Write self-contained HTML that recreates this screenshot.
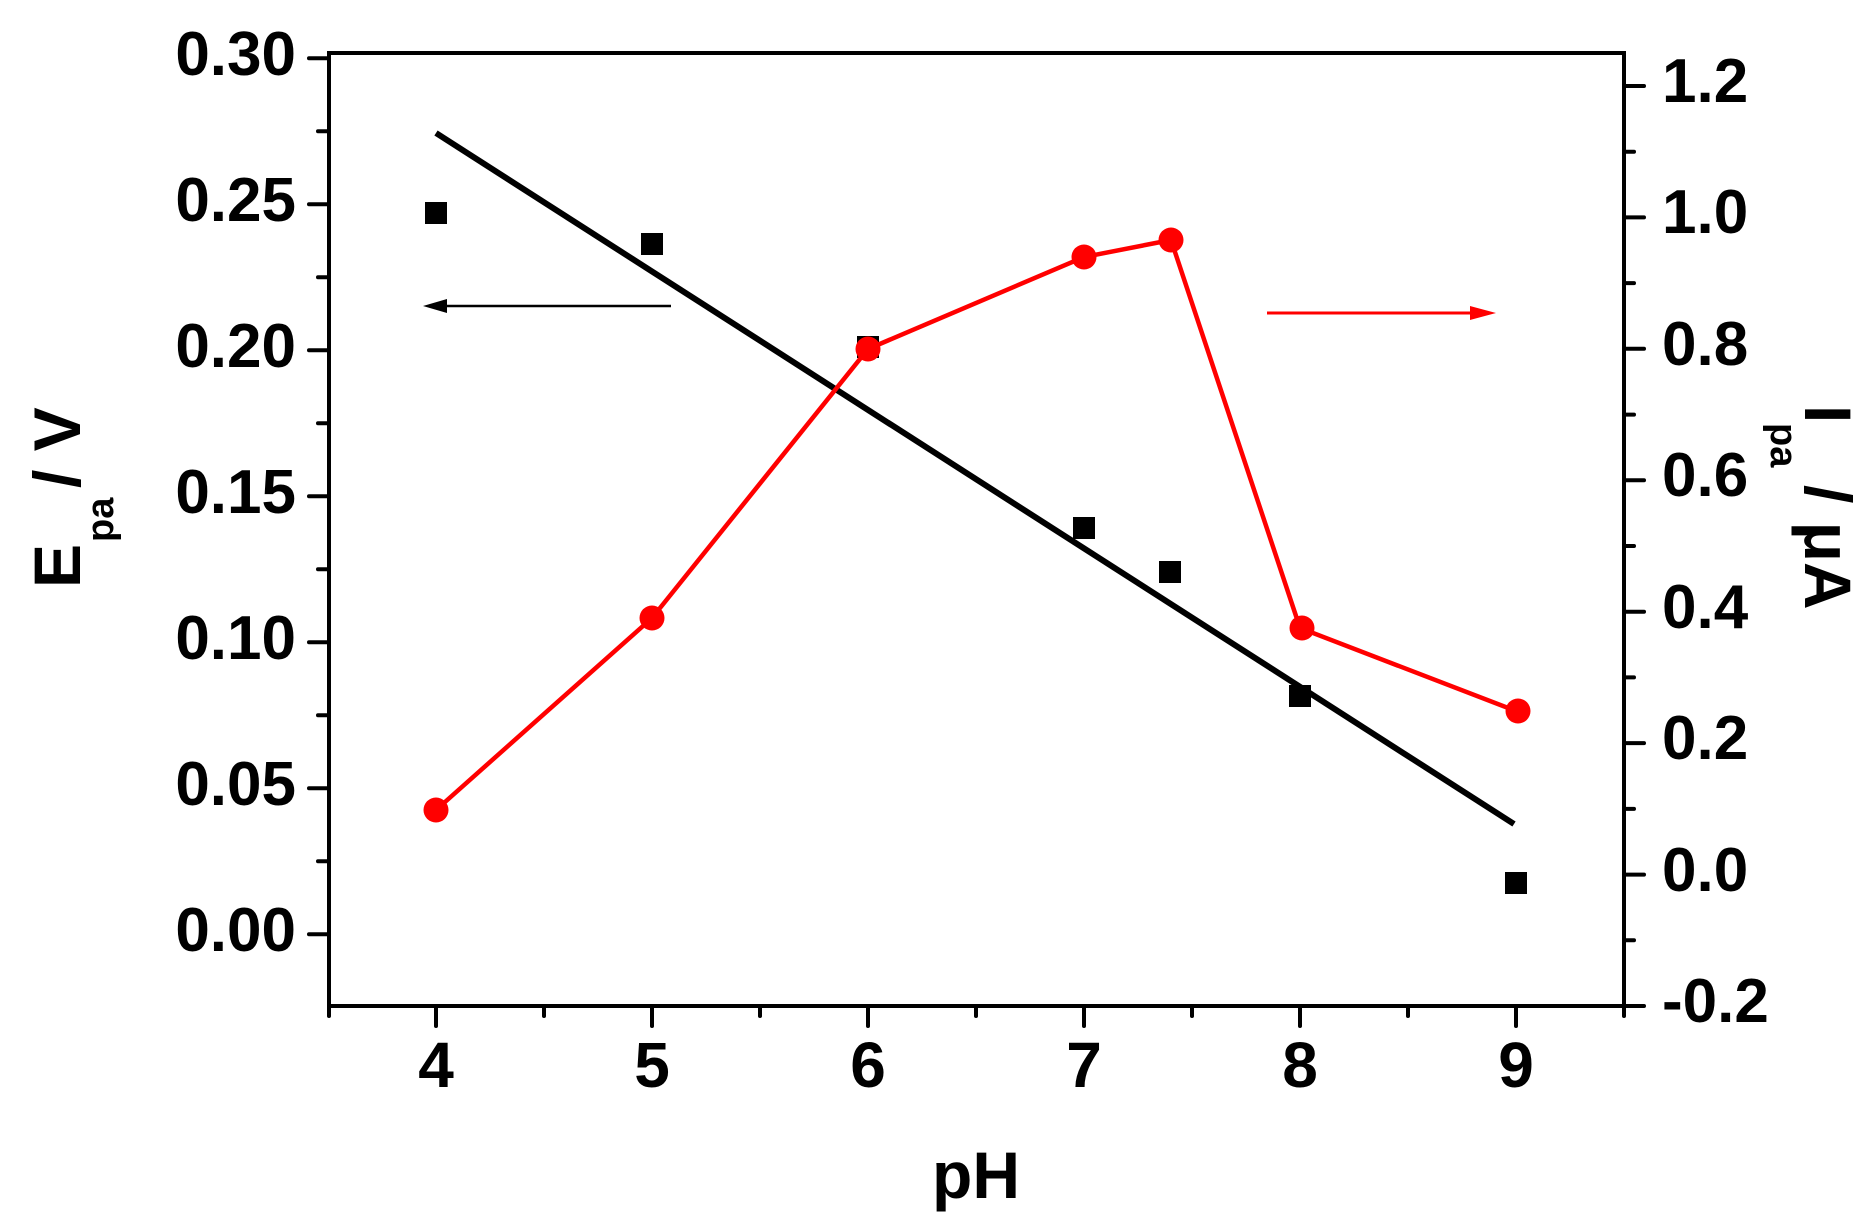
<!DOCTYPE html>
<html><head><meta charset="utf-8"><style>html,body{margin:0;padding:0;background:#fff}svg{display:block}text{font-family:"Liberation Sans",Arial,sans-serif;font-weight:bold;fill:#000}</style></head>
<body>
<svg width="1868" height="1231" viewBox="0 0 1868 1231" xmlns="http://www.w3.org/2000/svg">
<rect x="329" y="53" width="1295" height="953" fill="none" stroke="#000" stroke-width="4"/>
<g stroke="#000" stroke-width="4" stroke-linecap="round">
<line x1="436" y1="1006" x2="436" y2="1026"/><line x1="652" y1="1006" x2="652" y2="1026"/><line x1="868" y1="1006" x2="868" y2="1026"/><line x1="1084" y1="1006" x2="1084" y2="1026"/><line x1="1300" y1="1006" x2="1300" y2="1026"/><line x1="1516" y1="1006" x2="1516" y2="1026"/>
<line x1="329" y1="1006" x2="329" y2="1016"/><line x1="544" y1="1006" x2="544" y2="1016"/><line x1="760" y1="1006" x2="760" y2="1016"/><line x1="976" y1="1006" x2="976" y2="1016"/><line x1="1192" y1="1006" x2="1192" y2="1016"/><line x1="1408" y1="1006" x2="1408" y2="1016"/><line x1="1624" y1="1006" x2="1624" y2="1016"/>
<line x1="309" y1="58.3" x2="329" y2="58.3"/><line x1="309" y1="204.3" x2="329" y2="204.3"/><line x1="309" y1="350.3" x2="329" y2="350.3"/><line x1="309" y1="496.3" x2="329" y2="496.3"/><line x1="309" y1="642.3" x2="329" y2="642.3"/><line x1="309" y1="788.3" x2="329" y2="788.3"/><line x1="309" y1="934.3" x2="329" y2="934.3"/>
<line x1="318" y1="131.3" x2="329" y2="131.3"/><line x1="318" y1="277.3" x2="329" y2="277.3"/><line x1="318" y1="423.3" x2="329" y2="423.3"/><line x1="318" y1="569.3" x2="329" y2="569.3"/><line x1="318" y1="715.3" x2="329" y2="715.3"/><line x1="318" y1="861.3" x2="329" y2="861.3"/>
<line x1="1624" y1="86" x2="1644" y2="86"/><line x1="1624" y1="217.4" x2="1644" y2="217.4"/><line x1="1624" y1="348.8" x2="1644" y2="348.8"/><line x1="1624" y1="480.3" x2="1644" y2="480.3"/><line x1="1624" y1="611.7" x2="1644" y2="611.7"/><line x1="1624" y1="743.1" x2="1644" y2="743.1"/><line x1="1624" y1="874.6" x2="1644" y2="874.6"/><line x1="1624" y1="1006" x2="1644" y2="1006"/>
<line x1="1624" y1="151.7" x2="1634" y2="151.7"/><line x1="1624" y1="283.1" x2="1634" y2="283.1"/><line x1="1624" y1="414.6" x2="1634" y2="414.6"/><line x1="1624" y1="546" x2="1634" y2="546"/><line x1="1624" y1="677.4" x2="1634" y2="677.4"/><line x1="1624" y1="808.9" x2="1634" y2="808.9"/><line x1="1624" y1="940.3" x2="1634" y2="940.3"/>
</g>
<g font-size="64" text-anchor="middle">
<text x="436" y="1087">4</text><text x="652" y="1087">5</text><text x="868" y="1087">6</text><text x="1084" y="1087">7</text><text x="1300" y="1087">8</text><text x="1516" y="1087">9</text>
</g>
<g font-size="62" text-anchor="end">
<text x="296" y="75">0.30</text><text x="296" y="221">0.25</text><text x="296" y="367">0.20</text><text x="296" y="513">0.15</text><text x="296" y="659">0.10</text><text x="296" y="805">0.05</text><text x="296" y="951">0.00</text>
</g>
<g font-size="62">
<text x="1662" y="102">1.2</text><text x="1662" y="233">1.0</text><text x="1662" y="365">0.8</text><text x="1662" y="496">0.6</text><text x="1662" y="628">0.4</text><text x="1662" y="759">0.2</text><text x="1662" y="891">0.0</text><text x="1662" y="1022">-0.2</text>
</g>
<text x="976" y="1198" font-size="66" text-anchor="middle">pH</text>
<g transform="translate(80,588) rotate(-90)"><text x="0" y="0" font-size="66">E</text><text x="46" y="33" font-size="38">pa</text><text x="100" y="0" font-size="66">/ V</text></g>
<g transform="translate(1805,405) rotate(90)"><text x="0" y="0" font-size="66">I</text><text x="18" y="34" font-size="38">pa</text><text x="80" y="0" font-size="66">/ μA</text></g>
<line x1="436" y1="133" x2="1514" y2="824" stroke="#000" stroke-width="6"/>
<g fill="#000">
<rect x="425" y="202" width="22" height="22"/><rect x="641" y="233" width="22" height="22"/><rect x="857" y="336" width="22" height="22"/><rect x="1073" y="517" width="22" height="22"/><rect x="1159" y="561" width="22" height="22"/><rect x="1289" y="685" width="22" height="22"/><rect x="1505" y="872" width="22" height="22"/>
</g>
<polyline points="436,810 652,618 868,349 1084,257 1171,240 1300,628 1516,711" fill="none" stroke="#f00" stroke-width="4.5"/>
<g fill="#f00">
<circle cx="436" cy="810" r="12.5"/><circle cx="652" cy="618" r="12.5"/><circle cx="868" cy="349" r="12.5"/><circle cx="1084" cy="257" r="12.5"/><circle cx="1171" cy="240" r="12.5"/><circle cx="1302" cy="628" r="12.5"/><circle cx="1518" cy="711" r="12.5"/>
</g>
<line x1="671" y1="306" x2="440" y2="306" stroke="#000" stroke-width="2.5"/>
<polygon points="423,306 447,299 447,313" fill="#000"/>
<line x1="1267" y1="313" x2="1475" y2="313" stroke="#f00" stroke-width="3"/>
<polygon points="1496,313 1470,306 1470,320" fill="#f00"/>
</svg>
</body></html>
